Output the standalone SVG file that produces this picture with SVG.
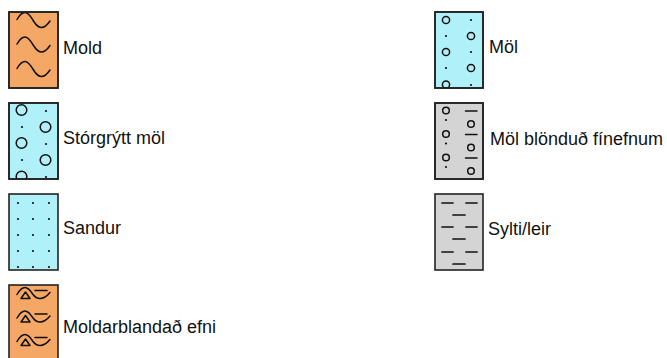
<svg xmlns="http://www.w3.org/2000/svg" width="667" height="358" viewBox="0 0 667 358">
<style>
  .box{stroke:#222;stroke-width:1.6}
  .mold{fill:#F5A766}
  .gravel{fill:#B0F0F8}
  .fine{fill:#D4D4D4}
  .ln{fill:none;stroke:#111;stroke-width:1.5;stroke-linecap:round;stroke-linejoin:round}
  .dot{fill:#111}
  .lbl{font-family:"Liberation Sans",Arial,sans-serif;font-size:18px;fill:#111}
</style>
<defs>
  <clipPath id="c1"><rect x="9" y="12" width="49" height="76"/></clipPath>
  <clipPath id="c2"><rect x="9" y="103" width="49" height="76"/></clipPath>
  <clipPath id="c4"><rect x="9" y="285" width="49" height="76"/></clipPath>
  <clipPath id="c5"><rect x="435" y="12" width="48" height="76"/></clipPath>
  <clipPath id="c6"><rect x="435" y="103" width="48" height="76"/></clipPath>
  <path id="wave" d="M17,19.5 Q21,12.5 25,12.5 Q28.5,12.5 33.5,21 Q37.5,27.5 41.5,27.5 Q45.5,27.5 50,21"/>
  <g id="mix">
    <path d="M17,7 Q21,0 25,0 Q28.5,0 33,7 Q36,11 40,11 Q45,11 50,5"/>
    <path d="M21,11 L30,11 L25.5,4.5 Z"/>
    <path d="M35,3 H47"/>
  </g>
</defs>

<g id="node-mold">
  <rect class="box mold" x="9" y="12" width="49" height="76"/>
  <g clip-path="url(#c1)" class="ln">
    <use href="#wave"/>
    <use href="#wave" y="24.5"/>
    <use href="#wave" y="49"/>
  </g>
  <rect x="9" y="12" width="49" height="76" fill="none" class="box"/>
  <text class="lbl" x="63" y="54">Mold</text>
</g>

<g id="node-storgrytt">
  <rect class="box gravel" x="9" y="103" width="49" height="76"/>
  <g clip-path="url(#c2)">
    <g class="ln">
      <circle cx="21.5" cy="110" r="5.3"/>
      <circle cx="21.5" cy="143" r="5.3"/>
      <circle cx="21.5" cy="176.5" r="5.3"/>
      <circle cx="45.5" cy="127" r="5.3"/>
      <circle cx="45.5" cy="160" r="5.3"/>
    </g>
    <g class="dot">
      <circle cx="46" cy="111" r="1.1"/>
      <circle cx="46" cy="144" r="1.1"/>
      <circle cx="46" cy="177" r="1.1"/>
      <circle cx="22" cy="127" r="1.1"/>
      <circle cx="22" cy="160" r="1.1"/>
    </g>
  </g>
  <rect x="9" y="103" width="49" height="76" fill="none" class="box"/>
  <text class="lbl" x="63" y="144">Stórgrýtt möl</text>
</g>

<g id="node-sandur">
  <rect class="box gravel" x="9" y="194" width="49" height="76"/>
  <g class="dot">
    <circle cx="18" cy="203" r="1.1"/><circle cx="33" cy="203" r="1.1"/><circle cx="49" cy="203" r="1.1"/>
    <circle cx="18" cy="219" r="1.1"/><circle cx="33" cy="219" r="1.1"/><circle cx="49" cy="219" r="1.1"/>
    <circle cx="18" cy="235" r="1.1"/><circle cx="33" cy="235" r="1.1"/><circle cx="49" cy="235" r="1.1"/>
    <circle cx="18" cy="251" r="1.1"/><circle cx="33" cy="251" r="1.1"/><circle cx="49" cy="251" r="1.1"/>
    <circle cx="18" cy="267" r="1.1"/><circle cx="33" cy="267" r="1.1"/><circle cx="49" cy="267" r="1.1"/>
  </g>
  <text class="lbl" x="63" y="234">Sandur</text>
</g>

<g id="node-moldarblandad">
  <rect class="box mold" x="9" y="285" width="49" height="76"/>
  <g clip-path="url(#c4)" class="ln">
    <use href="#mix" y="287.5"/>
    <use href="#mix" y="311"/>
    <use href="#mix" y="334.5"/>
  </g>
  <text class="lbl" x="63" y="333">Moldarblandað efni</text>
</g>

<g id="node-mol">
  <rect class="box gravel" x="435" y="12" width="48" height="76"/>
  <g clip-path="url(#c5)">
    <g class="ln">
      <circle cx="446" cy="20" r="3.6"/>
      <circle cx="446" cy="52" r="3.6"/>
      <circle cx="446" cy="84.5" r="3.6"/>
      <circle cx="471" cy="36" r="3.6"/>
      <circle cx="471" cy="68" r="3.6"/>
    </g>
    <g class="dot">
      <circle cx="471" cy="20" r="1.1"/>
      <circle cx="471" cy="52" r="1.1"/>
      <circle cx="471" cy="85" r="1.1"/>
      <circle cx="446" cy="36" r="1.1"/>
      <circle cx="446" cy="68" r="1.1"/>
    </g>
  </g>
  <rect x="435" y="12" width="48" height="76" fill="none" class="box"/>
  <text class="lbl" x="489" y="53">Möl</text>
</g>

<g id="node-mol-blondud">
  <rect class="box fine" x="435" y="103" width="48" height="76"/>
  <g clip-path="url(#c6)">
    <g class="ln">
      <circle cx="446" cy="110.5" r="3.3"/>
      <circle cx="446" cy="134" r="3.3"/>
      <circle cx="446" cy="157.5" r="3.3"/>
      <circle cx="471" cy="124" r="3.3"/>
      <circle cx="471" cy="147.5" r="3.3"/>
      <circle cx="471" cy="171" r="3.3"/>
      <path d="M465.5,111 H477 M465.5,134.5 H477 M465.5,158 H477"/>
    </g>
    <g class="dot">
      <circle cx="446" cy="120" r="1.1"/>
      <circle cx="446" cy="143.5" r="1.1"/>
      <circle cx="446" cy="167" r="1.1"/>
    </g>
  </g>
  <rect x="435" y="103" width="48" height="76" fill="none" class="box"/>
  <text class="lbl" x="490" y="145">Möl blönduð fínefnum</text>
</g>

<g id="node-sylti">
  <rect class="box fine" x="435" y="194" width="48" height="76"/>
  <path class="ln" style="stroke-width:1.7" d="M442,203 H453 M466,203 H477 M453,215 H465 M442,227 H453 M466,227 H477 M453,239 H465 M442,252 H453 M466,252 H477 M453,264 H465"/>
  <text class="lbl" x="488" y="235">Sylti/leir</text>
</g>

<g id="connectors"></g>
</svg>
